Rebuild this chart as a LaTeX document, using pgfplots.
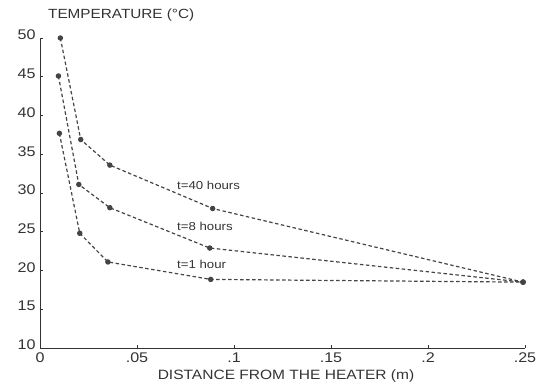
\documentclass[border=0pt]{standalone}
\usepackage{fontspec}
\setmainfont[FakeStretch=1.15]{Liberation Sans}
\usepackage{pgfplots}
\pgfplotsset{compat=1.18}
\definecolor{ink}{HTML}{333333}
\definecolor{lin}{HTML}{444444}
\begin{document}
\begin{tikzpicture}
\path[use as bounding box] (0,0) rectangle (557pt,389pt);
\begin{axis}[
  at={(40pt,41pt)}, anchor=south west,
  scale only axis, width=485pt, height=310pt,
  xmin=0, xmax=0.25, ymin=10, ymax=50,
  axis lines=left,
  axis line style={-, ink, line width=1pt},
  xtick={0,0.05,0.1,0.15,0.2,0.25},
  xticklabels={0,.05,.1,.15,.2,.25},
  ytick={10,15,20,25,30,35,40,45,50},
  tick align=inside,
  major tick length=3pt,
  tick style={ink, line width=0.8pt},
  /pgf/number format/assume math mode=true,
  ticklabel style={font=\fontsize{14}{15}\selectfont, text=ink},
  xticklabel style={yshift=-1pt},
  yticklabel style={yshift=3pt, xshift=-1pt},
  clip=false,
]
\addplot[lin, line width=1.2pt, dash pattern=on 3.5pt off 2.5pt, mark=*, mark size=2.1pt, mark options={solid, fill=lin, draw=lin}]
  coordinates {(0.0105,50) (0.021,36.9) (0.036,33.6) (0.089,28.0) (0.249,18.5)};
\addplot[lin, line width=1.2pt, dash pattern=on 3.5pt off 2.5pt, mark=*, mark size=2.1pt, mark options={solid, fill=lin, draw=lin}]
  coordinates {(0.0095,45.1) (0.020,31.1) (0.036,28.1) (0.0875,22.9) (0.249,18.5)};
\addplot[lin, line width=1.2pt, dash pattern=on 3.5pt off 2.5pt, mark=*, mark size=2.1pt, mark options={solid, fill=lin, draw=lin}]
  coordinates {(0.0100,37.7) (0.0205,24.8) (0.035,21.1) (0.088,18.85) (0.249,18.5)};
\node[anchor=west, inner sep=0pt, text=ink, font=\fontsize{11.5}{13}\selectfont] at (axis cs:0.0706,31.0) {t=40 hours};
\node[anchor=west, inner sep=0pt, text=ink, font=\fontsize{11.5}{13}\selectfont] at (axis cs:0.0706,25.7) {t=8 hours};
\node[anchor=west, inner sep=0pt, text=ink, font=\fontsize{11.5}{13}\selectfont] at (axis cs:0.0706,20.8) {t=1 hour};
\end{axis}
\node[anchor=west, inner sep=0pt, text=ink, font=\fontsize{13.3}{15}\selectfont] at (48pt,374pt) {TEMPERATURE (°C)};
\node[inner sep=0pt, text=ink, font=\fontsize{13.5}{15}\selectfont] at (286pt,13pt) {DISTANCE FROM THE HEATER (m)};
\end{tikzpicture}
\end{document}
